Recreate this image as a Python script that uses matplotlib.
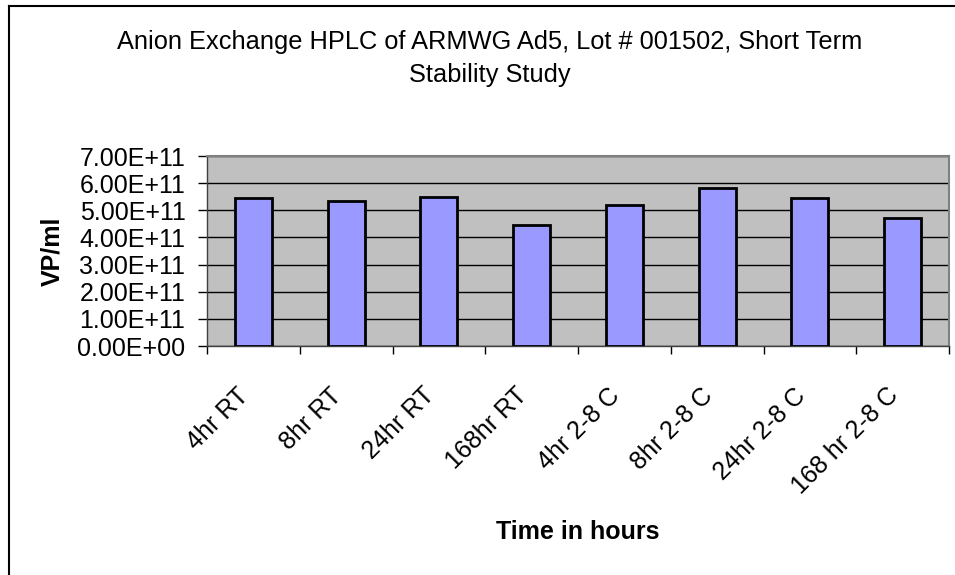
import matplotlib
matplotlib.use("Agg")
import matplotlib.pyplot as plt
from matplotlib.lines import Line2D
from matplotlib.transforms import ScaledTranslation
from matplotlib.ticker import FuncFormatter, MultipleLocator, FixedLocator

plt.rcParams['font.family'] = ['Liberation Sans', 'DejaVu Sans']

categories = ["4hr RT", "8hr RT", "24hr RT", "168hr RT",
              "4hr 2-8 C", "8hr 2-8 C", "24hr 2-8 C", "168 hr 2-8 C"]
values = [5.44e11, 5.33e11, 5.50e11, 4.44e11, 5.20e11, 5.82e11, 5.44e11, 4.70e11]
title = "Anion Exchange HPLC of ARMWG Ad5, Lot # 001502, Short Term\nStability Study"
xlabel = "Time in hours"
ylabel = "VP/ml"

W, H = 955, 575
fig = plt.figure(figsize=(W / 100, H / 100), dpi=100)
fig.patch.set_facecolor("white")

# chart area border (left and top visible)
fig.add_artist(Line2D([8.5 / W, 8.5 / W], [0, 1 - 6 / H], transform=fig.transFigure, color="black", lw=1.5))
fig.add_artist(Line2D([8.5 / W, 1], [1 - 6 / H, 1 - 6 / H], transform=fig.transFigure, color="black", lw=1.5))

left, right, top, bottom = 207, 949, 156, 346
ax = fig.add_axes([left / W, 1 - bottom / H, (right - left) / W, (bottom - top) / H])
ax.set_facecolor("#C0C0C0")

x = list(range(len(categories)))
ax.bar(x, values, width=0.4, color="#9999FF", edgecolor="black", linewidth=2, zorder=3)

ax.set_xlim(-0.5, len(categories) - 0.5)
ax.set_ylim(0, 7e11)
ax.yaxis.set_major_locator(MultipleLocator(1e11))
ax.yaxis.set_major_formatter(FuncFormatter(lambda v, p: "{:.2E}".format(v)))
ax.grid(axis="y", color="black", lw=1, zorder=1)
ax.set_axisbelow(True)

ax.set_xticks(x)
ax.set_xticklabels(categories, rotation=45, ha="right", va="center", rotation_mode="anchor")
ax.xaxis.set_minor_locator(FixedLocator([i - 0.5 for i in range(len(categories) + 1)]))
ax.tick_params(axis="x", which="major", length=0, pad=33, labelsize=18)
ax.tick_params(axis="x", which="minor", length=6, width=1, color="black", direction="out")
ax.tick_params(axis="y", which="major", length=6.5, width=1, color="black", direction="out", pad=9, labelsize=18)
shift = ScaledTranslation(-0.08, 0, fig.dpi_scale_trans)
for lab in ax.get_xticklabels():
    lab.set_transform(lab.get_transform() + shift)

for s in ["top", "right"]:
    ax.spines[s].set_color("#808080")
    ax.spines[s].set_linewidth(1.5)
for s in ["left", "bottom"]:
    ax.spines[s].set_color("#404040")
    ax.spines[s].set_linewidth(1)

fig.text(490 / W, 1 - 30 / H, title, ha="center", va="top", fontsize=18.3, linespacing=1.45)
fig.text(578 / W, 1 - 532 / H, xlabel, ha="center", va="center", fontsize=18, fontweight="bold")
fig.text(52 / W, 1 - 251 / H, ylabel, ha="center", va="center", rotation=90, fontsize=18, fontweight="bold")

fig.savefig("out.png", dpi=100)
